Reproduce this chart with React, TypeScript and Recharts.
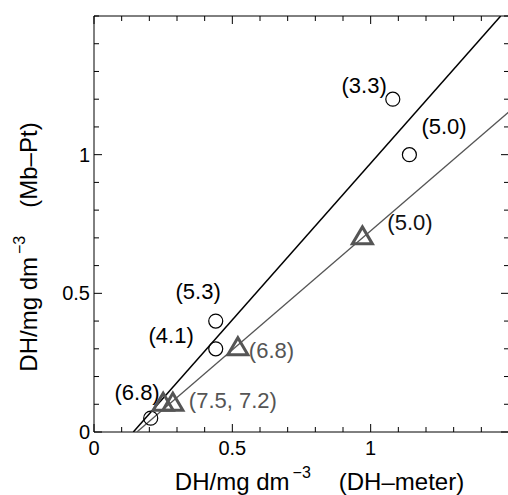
import { ScatterChart, Scatter, XAxis, YAxis } from 'recharts'

// both axes in mg dm^-3
const CIRCLE_X = [1.08, 1.14, 0.44, 0.44, 0.205]
const CIRCLE_Y = [1.2, 1.0, 0.4, 0.3, 0.05]
const CIRCLE_LABELS = ['(3.3)', '(5.0)', '(5.3)', '(4.1)', '(6.8)']

const TRIANGLE_X = [0.97, 0.52, 0.25, 0.285]
const TRIANGLE_Y = [0.7, 0.3, 0.1, 0.1]
const TRIANGLE_LABELS = ['(5.0)', '(6.8)', '', '(7.5, 7.2)']

const FIT_BLACK_X = [0.142, 1.47]
const FIT_BLACK_Y = [0, 1.5]
const FIT_GRAY_X = [0.155, 1.5]
const FIT_GRAY_Y = [0, 1.155]

const AXIS_TICKS = [0, 0.1, 0.2, 0.3, 0.4, 0.5, 0.6, 0.7, 0.8, 0.9, 1, 1.1, 1.2, 1.3, 1.4, 1.5]
const MAJOR_TICKS = [0, 0.5, 1]
const MAJOR_LABELS = ['0', '0.5', '1']

// label placement next to each marker (px, relative to the point)
const CIRCLE_LABEL_POS = [
  { anchor: 'end', dx: -6, dy: -12 },
  { anchor: 'start', dx: 12, dy: -27 },
  { anchor: 'end', dx: 5, dy: -28 },
  { anchor: 'end', dx: -22, dy: -12 },
  { anchor: 'end', dx: 9, dy: -24 },
]
const TRIANGLE_LABEL_POS = [
  { anchor: 'start', dx: 25, dy: -14, color: '#111' },
  { anchor: 'start', dx: 11, dy: 3, color: '#555' },
  { anchor: 'start', dx: 0, dy: 0, color: '#555' },
  { anchor: 'start', dx: 16, dy: -2, color: '#555' },
]

const circles = CIRCLE_X.map((x, i) => ({ x, y: CIRCLE_Y[i], label: CIRCLE_LABELS[i], i }))
const triangles = TRIANGLE_X.map((x, i) => ({ x, y: TRIANGLE_Y[i], label: TRIANGLE_LABELS[i], i }))
const fitBlack = FIT_BLACK_X.map((x, i) => ({ x, y: FIT_BLACK_Y[i] }))
const fitGray = FIT_GRAY_X.map((x, i) => ({ x, y: FIT_GRAY_Y[i] }))

const FONT = '"Liberation Sans", Arial, Helvetica, sans-serif'
const LABEL_SIZE = 22

function tickLen(v: number) {
  return MAJOR_TICKS.indexOf(v) >= 0 ? 8 : 5
}

function BottomTick({ x, y, payload }: any) {
  const k = MAJOR_TICKS.indexOf(payload.value)
  return (
    <g>
      <line x1={x} x2={x} y1={y} y2={y - tickLen(payload.value)} stroke="#000" />
      {k >= 0 && (
        <text x={x} y={y + 23} textAnchor="middle" fontSize={20} fill="#000">{MAJOR_LABELS[k]}</text>
      )}
    </g>
  )
}

function TopTick({ x, y, payload }: any) {
  return <line x1={x} x2={x} y1={y} y2={y + tickLen(payload.value)} stroke="#000" />
}

function LeftTick({ x, y, payload }: any) {
  const k = MAJOR_TICKS.indexOf(payload.value)
  return (
    <g>
      <line x1={x} x2={x + tickLen(payload.value)} y1={y} y2={y} stroke="#000" />
      {k >= 0 && (
        <text x={x - 4} y={y + 7} textAnchor="end" fontSize={20} fill="#000">{MAJOR_LABELS[k]}</text>
      )}
    </g>
  )
}

function RightTick({ x, y, payload }: any) {
  return <line x1={x} x2={x - tickLen(payload.value)} y1={y} y2={y} stroke="#000" />
}

function Circle(props: any) {
  const { cx, cy, payload } = props
  const pos = CIRCLE_LABEL_POS[payload.i]
  return (
    <g>
      <circle cx={cx} cy={cy} r={7} fill="none" stroke="#000" strokeWidth={1.2} />
      <text x={cx + pos.dx} y={cy + pos.dy + 6} textAnchor={pos.anchor} fontSize={LABEL_SIZE} fill="#000">
        {payload.label}
      </text>
    </g>
  )
}

function Triangle(props: any) {
  const { cx, cy, payload } = props
  const pos = TRIANGLE_LABEL_POS[payload.i]
  const d = `M${cx},${cy - 11} L${cx + 10},${cy + 6} L${cx - 10},${cy + 6} Z`
  return (
    <g>
      <path d={d} fill="none" stroke="#555" strokeWidth={3} strokeLinejoin="miter" />
      {payload.label && (
        <text x={cx + pos.dx} y={cy + pos.dy + 6} textAnchor={pos.anchor} fontSize={LABEL_SIZE} fill={pos.color}>
          {payload.label}
        </text>
      )}
    </g>
  )
}

function NoDot() {
  return <g />
}

function XTitle({ viewBox }: any) {
  const cx = viewBox.x + viewBox.width / 2 + 18
  const y = viewBox.y + 58
  return (
    <text x={cx} y={y} textAnchor="middle" fontSize={24} fill="#000">
      <tspan>DH/mg dm</tspan>
      <tspan dx={3} dy={-12} fontSize={16}>−3</tspan>
      <tspan dx={28} dy={12}>(DH–meter)</tspan>
    </text>
  )
}

function YTitle({ viewBox }: any) {
  const x = viewBox.x + 37
  const cy = viewBox.y + viewBox.height / 2 + 23
  return (
    <text x={x} y={cy} textAnchor="middle" fontSize={24} fill="#000" transform={`rotate(-90, ${x}, ${cy})`}>
      <tspan>DH/mg dm</tspan>
      <tspan dx={3} dy={-12} fontSize={16}>−3</tspan>
      <tspan dx={28} dy={12}>(Mb–Pt)</tspan>
    </text>
  )
}

export default function App() {
  return (
    <div style={{ position: 'absolute', left: 0, top: 0, width: 508, height: 495, overflow: 'hidden', background: '#fff', fontFamily: FONT }}>
      <ScatterChart width={510} height={495} margin={{ top: 15, right: 0, bottom: 0, left: 0 }}>
        <XAxis
          xAxisId="x"
          dataKey="x"
          type="number"
          domain={[0, 1.5]}
          ticks={AXIS_TICKS}
          interval={0}
          height={63}
          tickSize={0}
          tickMargin={0}
          tickLine={false}
          axisLine={{ stroke: '#000' }}
          tick={<BottomTick />}
          allowDataOverflow
          label={{ content: (p: any) => <XTitle viewBox={p.viewBox} /> }}
        />
        <XAxis
          xAxisId="xt"
          dataKey="x"
          type="number"
          orientation="top"
          domain={[0, 1.5]}
          ticks={AXIS_TICKS}
          interval={0}
          height={1}
          tickSize={0}
          tickMargin={0}
          tickLine={false}
          axisLine={{ stroke: '#000' }}
          tick={<TopTick />}
          allowDataOverflow
        />
        <YAxis
          yAxisId="y"
          dataKey="y"
          type="number"
          domain={[0, 1.5]}
          ticks={AXIS_TICKS}
          interval={0}
          width={94}
          tickSize={0}
          tickMargin={0}
          tickLine={false}
          axisLine={{ stroke: '#000' }}
          tick={<LeftTick />}
          allowDataOverflow
          label={{ content: (p: any) => <YTitle viewBox={p.viewBox} /> }}
        />
        <YAxis
          yAxisId="yr"
          dataKey="y"
          type="number"
          orientation="right"
          domain={[0, 1.5]}
          ticks={AXIS_TICKS}
          interval={0}
          width={1}
          tickSize={0}
          tickMargin={0}
          tickLine={false}
          axisLine={{ stroke: '#000' }}
          tick={<RightTick />}
          allowDataOverflow
        />
        <Scatter xAxisId="x" yAxisId="y" data={fitBlack} line={{ stroke: '#000', strokeWidth: 1.5 }} shape={<NoDot />} isAnimationActive={false} />
        <Scatter xAxisId="xt" yAxisId="yr" data={fitGray} line={{ stroke: '#555', strokeWidth: 1.3 }} shape={<NoDot />} isAnimationActive={false} />
        <Scatter xAxisId="x" yAxisId="y" data={circles} shape={<Circle />} isAnimationActive={false} />
        <Scatter xAxisId="x" yAxisId="y" data={triangles} shape={<Triangle />} isAnimationActive={false} />
      </ScatterChart>
    </div>
  )
}
